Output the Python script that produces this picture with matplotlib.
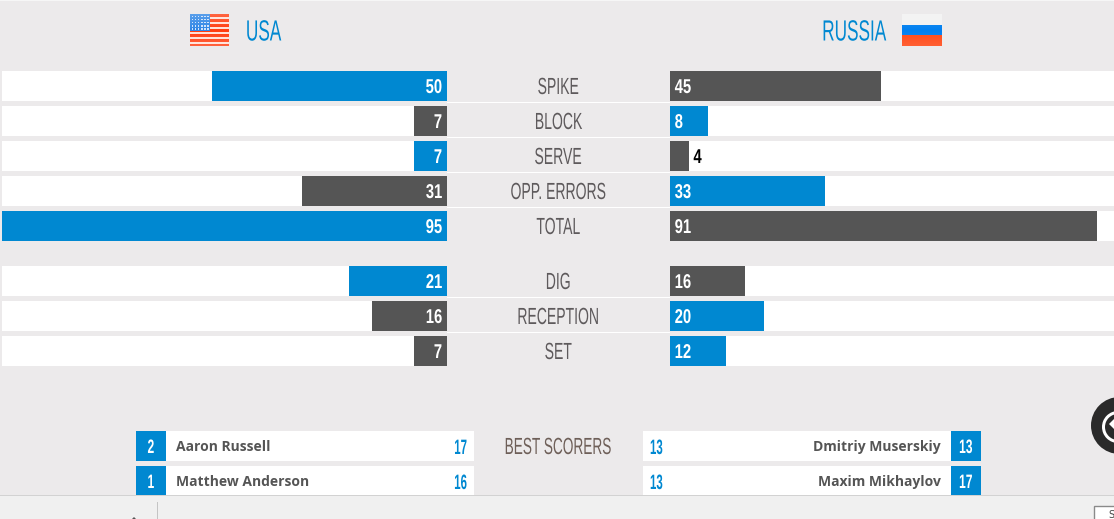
import matplotlib
matplotlib.use("Agg")
import matplotlib.pyplot as plt
from matplotlib.patches import Rectangle, Circle, Wedge, Polygon
from matplotlib.patheffects import AbstractPathEffect
from matplotlib.transforms import Affine2D

W, H = 1114, 519

# dữ liệu
categories = ['SPIKE', 'BLOCK', 'SERVE', 'OPP. ERRORS', 'TOTAL', 'DIG', 'RECEPTION', 'SET']
usa_values = [50, 7, 7, 31, 95, 21, 16, 7]
rus_values = [45, 8, 4, 33, 91, 16, 20, 12]
row_tops = [71, 106, 141, 176, 211, 266, 301, 336]

usa_shirts = ['2', '1']
usa_players = ['Aaron Russell', 'Matthew Anderson']
usa_points = ['17', '16']
rus_shirts = ['13', '17']
rus_players = ['Dmitriy Muserskiy', 'Maxim Mikhaylov']
rus_points = ['13', '13']

BG = '#ECEAEB'
BLUE = '#0088D1'
DARK = '#555555'
TITLE = '#5E5A5C'
FONT = 'Liberation Sans'
PX_PER_UNIT = 4.69


class Squeeze(AbstractPathEffect):
    # ép chữ theo chiều ngang, vì không có font hẹp kiểu Oswald
    def __init__(self, sx, align=0.5):
        super().__init__()
        self.sx = sx
        self.align = align

    def draw_path(self, renderer, gc, tpath, affine, rgbFace=None):
        w = tpath.get_extents().x1
        t = Affine2D().scale(self.sx, 1).translate((1 - self.sx) * w * self.align, 0) + affine
        renderer.draw_path(gc, tpath, t, rgbFace)


def narrow(ax, x, y, s, size, color, sx=0.6, ha='center', weight='normal'):
    align = {'left': 0, 'center': 0.5, 'right': 1}[ha]
    return ax.text(x, y, s, color=color, fontsize=size, family=FONT, weight=weight,
                   ha=ha, va='baseline', path_effects=[Squeeze(sx, align)])


def px_axes(fig, x0, y0, x1, y1):
    # trục theo tọa độ pixel của ảnh
    ax = fig.add_axes([x0 / W, 1 - y1 / H, (x1 - x0) / W, (y1 - y0) / H])
    ax.axis('off')
    ax.patch.set_alpha(0)
    return ax


def gloss(ax, x, y, w, h, strength=0.2):
    # lớp bóng nhẹ trên cờ
    for i in range(int(h)):
        a = strength * abs(i / h - 0.5) * 2
        ax.add_patch(Rectangle((x, y + i), w, 1, color='white', alpha=a, lw=0))


fig = plt.figure(figsize=(W / 100, H / 100), dpi=100, facecolor=BG)
bg = px_axes(fig, 0, 0, W, H)
bg.set_xlim(0, W)
bg.set_ylim(H, 0)

# viền trắng trên cùng và các đường phân cách
bg.add_patch(Rectangle((0, 0), W, 1, color='#F6F6F6', lw=0))
for t in row_tops:
    if t in (211, 336):
        continue
    bg.add_patch(Rectangle((447, t + 31), 223, 1, color='white', lw=0))

# cờ Mỹ
bg.add_patch(Rectangle((190, 14), 39, 32, color='#FF3D10', lw=0))
for i in range(6):
    bg.add_patch(Rectangle((190, 16.5 + i * 5), 39, 2.4, color='#FFE0D6', lw=0))
bg.add_patch(Rectangle((190, 14), 20, 17, color='#2F86E6', lw=0))
for r in range(5):
    for c in range(6):
        bg.add_patch(Rectangle((191.5 + c * 3.1, 15.5 + r * 3.1), 1.7, 1.7, color='#CFE3FA', lw=0))
gloss(bg, 190, 14, 39, 32)
# cờ Nga
bg.add_patch(Rectangle((902, 14), 40, 11, color='#F2F2F2', lw=0))
bg.add_patch(Rectangle((902, 25), 40, 10, color='#0080F0', lw=0))
bg.add_patch(Rectangle((902, 35), 40, 11, color='#FF4A18', lw=0))
gloss(bg, 902, 14, 40, 32, 0.12)

narrow(bg, 263.5, 40.5, 'USA', 21, BLUE, sx=0.59)
narrow(bg, 854, 40.5, 'RUSSIA', 21, BLUE, sx=0.59)

ax_usa = px_axes(fig, 2, 0, 447, H)
ax_usa.set_xlim(445 / PX_PER_UNIT, 0)
ax_usa.set_ylim(H, 0)
ax_rus = px_axes(fig, 670, 0, W, H)
ax_rus.set_xlim(0, 444 / PX_PER_UNIT)
ax_rus.set_ylim(H, 0)

for cat, u, r, t in zip(categories, usa_values, rus_values, row_tops):
    mid = t + 15
    ax_usa.barh(mid, 445 / PX_PER_UNIT, height=30, left=0, color='white', lw=0)
    ax_rus.barh(mid, 444 / PX_PER_UNIT, height=30, left=0, color='white', lw=0)
    ax_usa.barh(mid, u, height=30, color=BLUE if u >= r else DARK, lw=0)
    ax_rus.barh(mid, r, height=30, color=BLUE if r >= u else DARK, lw=0)
    narrow(ax_usa, 1, mid + 7, str(u), 14.4, 'white', sx=0.74, ha='right', weight='bold')
    if r < 5:
        narrow(ax_rus, r + 1, mid + 7, str(r), 14.4, 'black', sx=0.74, ha='left', weight='bold')
    else:
        narrow(ax_rus, 1, mid + 7, str(r), 14.4, 'white', sx=0.74, ha='left', weight='bold')
    narrow(bg, 558.5, mid + 8, cat, 16.8, TITLE, sx=0.6)

# bảng ghi điểm
narrow(bg, 558.5, 454, 'BEST SCORERS', 16.8, '#6E5F58', sx=0.585)
score_tops = [431, 466]
for i, t in enumerate(score_tops):
    mid = t + 15
    bg.add_patch(Rectangle((166, t), 308, 30, color='white', lw=0))
    bg.add_patch(Rectangle((136, t), 30, 30, color=BLUE, lw=0))
    bg.add_patch(Rectangle((643, t), 308, 30, color='white', lw=0))
    bg.add_patch(Rectangle((951, t), 30, 30, color=BLUE, lw=0))
    narrow(bg, 151, mid + 7, usa_shirts[i], 14, 'white', sx=0.62, weight='bold')
    narrow(bg, 966, mid + 7, rus_shirts[i], 14, 'white', sx=0.62, weight='bold')
    bg.text(176, mid + 1, usa_players[i], color=DARK, fontsize=10, family='Open Sans', weight='bold',
            ha='left', va='center')
    bg.text(941, mid + 1, rus_players[i], color=DARK, fontsize=10, family='Open Sans', weight='bold',
            ha='right', va='center')
    narrow(bg, 467.5, mid + 8, usa_points[i], 15, BLUE, sx=0.55, ha='right', weight='bold')
    narrow(bg, 650, mid + 8, rus_points[i], 15, BLUE, sx=0.55, ha='left', weight='bold')

# nút tròn bên phải
bg.add_patch(Circle((1119.5, 425.5), 28.5, color='#2A2A2A', lw=0))
bg.add_patch(Wedge((1118, 427), 16, 0, 360, width=3, color='white', lw=0))
bg.add_patch(Polygon([(1109, 424), (1114, 419), (1114, 429)], color='white', lw=0))

# thanh dưới cùng của trình duyệt
bar = Rectangle((0, 495), W, 24, color='#F0F0F0', lw=0, zorder=5)
bg.add_patch(bar)
bg.add_patch(Rectangle((0, 495), W, 1, color='#D2D2D2', lw=0, zorder=6))
bg.add_patch(Rectangle((157, 502), 1, 17, color='#C4C4C4', lw=0, zorder=6))
bg.add_patch(Rectangle((1093.5, 505.5), 30, 20, fc='white', ec='#8A8A8A', lw=1, zorder=6))
bg.text(1111, 518.5, 'S', color='#444444', fontsize=7, ha='center', va='baseline', zorder=7)
bg.add_patch(Polygon([(132, 519), (134, 517), (136, 519)], color='#555555', lw=0, zorder=6))

# thanh dưới phải nằm trên các trục bar
bg.set_zorder(3)
fig.savefig('out.png', dpi=100)
